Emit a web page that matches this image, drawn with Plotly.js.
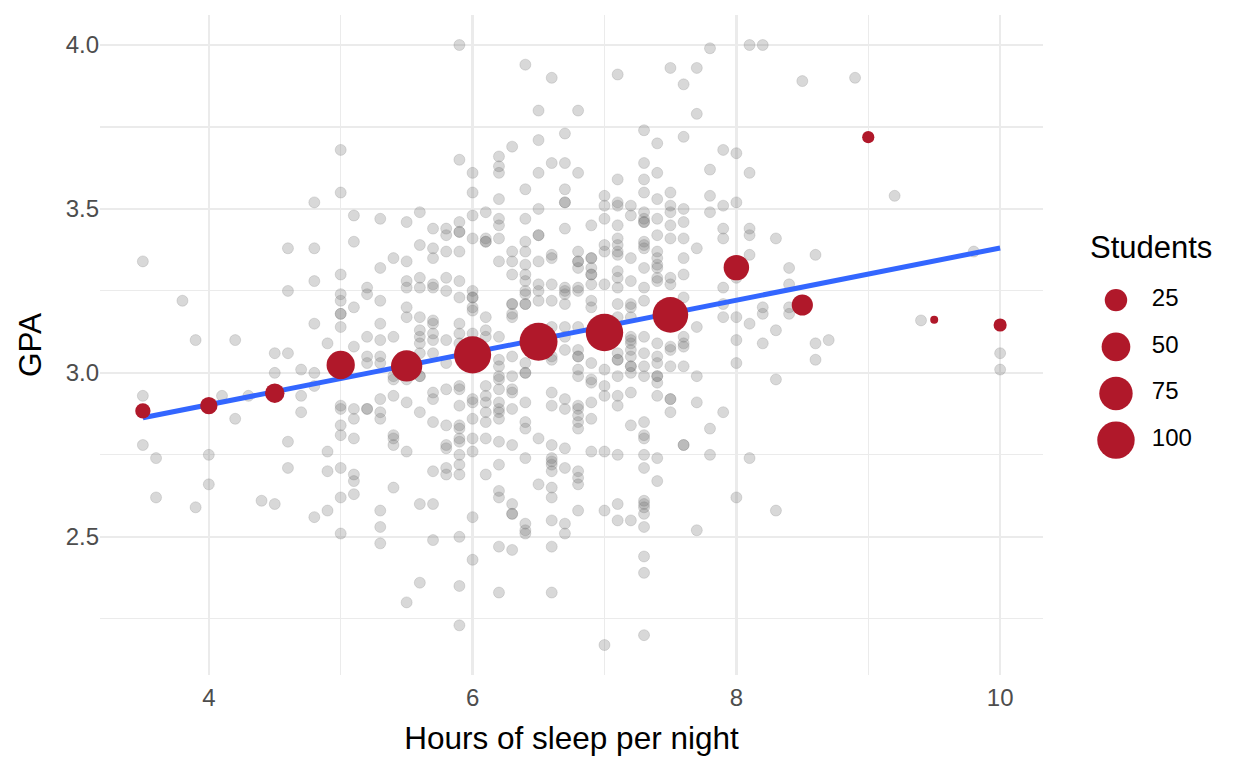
<!DOCTYPE html>
<html>
<head>
<meta charset="utf-8">
<script src="https://cdn.plot.ly/plotly-3.0.1.min.js"></script>
<style>
  html, body { margin: 0; padding: 0; background: #fff; }
  #chart { width: 1248px; height: 768px; }
</style>
</head>
<body>
<div id="chart"></div>
<script>
// Individual students: sleep hours (0.1 h steps) and the GPA values seen in each column
const sleepCols = [3.5, 3.6, 3.8, 3.9, 4.0, 4.1, 4.2, 4.3, 4.4, 4.5, 4.6, 4.7, 4.8, 4.9,
    5.0, 5.1, 5.2, 5.3, 5.4, 5.5, 5.6, 5.7, 5.8, 5.9, 6.0, 6.1, 6.2, 6.3, 6.4, 6.5, 6.6, 6.7,
    6.8, 6.9, 7.0, 7.1, 7.2, 7.3, 7.4, 7.5, 7.6, 7.7, 7.8, 7.9, 8.0, 8.1, 8.2, 8.3, 8.4, 8.5,
    8.6, 8.7, 8.9, 9.2, 9.4, 9.8, 10.0];
const gpaCols = [
    [3.34, 2.93, 2.78],
    [2.74, 2.62],
    [3.22],
    [3.10, 2.59],
    [2.75, 2.66],
    [2.93],
    [3.10, 2.86],
    [2.93],
    [2.61],
    [3.06, 3.00, 2.60],
    [3.38, 3.25, 3.06, 2.79, 2.71],
    [3.01, 2.93, 2.88],
    [3.52, 3.38, 3.28, 3.15, 3.00, 2.96, 2.56],
    [3.09, 2.76, 2.70, 2.58],
    [3.68, 3.55, 3.30, 3.24, 3.22, 3.18, 3.18, 3.14, 2.90, 2.89, 2.84, 2.81, 2.71, 2.62, 2.51],
    [3.48, 3.40, 3.20, 3.08, 2.89, 2.86, 2.80, 2.69, 2.67, 2.63],
    [3.26, 3.24, 3.11, 3.05, 3.03, 2.89, 2.89],
    [3.47, 3.32, 3.22, 3.15, 3.10, 3.05, 3.03, 2.92, 2.88, 2.86, 2.58, 2.53, 2.48],
    [3.35, 3.11, 2.99, 2.98, 2.93, 2.81, 2.80, 2.78, 2.65],
    [3.46, 3.34, 3.28, 3.26, 3.20, 3.17, 2.98, 2.91, 2.76, 2.30],
    [3.49, 3.39, 3.29, 3.26, 3.17, 3.13, 3.11, 3.09, 3.06, 2.99, 2.99, 2.88, 2.60, 2.36],
    [3.44, 3.38, 3.35, 3.27, 3.26, 3.16, 3.15, 3.12, 3.10, 3.06, 2.94, 2.92, 2.85, 2.70, 2.60, 2.49],
    [3.44, 3.42, 3.37, 3.29, 3.25, 3.10, 3.03, 2.95, 2.84, 2.78, 2.77, 2.71, 2.69],
    [4.00, 3.65, 3.46, 3.43, 3.43, 3.37, 3.28, 3.23, 3.15, 3.12, 3.09, 2.96, 2.95, 2.90, 2.84, 2.83,
        2.80, 2.79, 2.75, 2.72, 2.69, 2.50, 2.35, 2.23],
    [3.61, 3.55, 3.48, 3.41, 3.25, 3.23, 3.23, 3.20, 3.19, 3.12, 2.92, 2.91, 2.86, 2.80, 2.76, 2.56, 2.43],
    [3.49, 3.41, 3.40, 3.40, 3.17, 3.13, 3.11, 2.96, 2.93, 2.91, 2.88, 2.85, 2.80, 2.69],
    [3.66, 3.63, 3.61, 3.53, 3.47, 3.45, 3.41, 3.34, 3.11, 3.04, 3.02, 2.99, 2.98, 2.95, 2.91, 2.89,
        2.88, 2.86, 2.79, 2.72, 2.64, 2.62, 2.47, 2.33],
    [3.69, 3.37, 3.34, 3.30, 3.21, 3.21, 3.18, 3.17, 3.05, 2.99, 2.95, 2.94, 2.89, 2.78, 2.60, 2.57, 2.57, 2.46],
    [3.94, 3.56, 3.47, 3.40, 3.37, 3.33, 3.30, 3.28, 3.25, 3.24, 3.21, 3.21, 3.03, 3.00, 3.00, 2.91,
        2.85, 2.83, 2.74, 2.54, 2.52, 2.51],
    [3.80, 3.71, 3.61, 3.50, 3.42, 3.42, 3.34, 3.27, 3.25, 3.22, 2.80, 2.66],
    [3.90, 3.64, 3.36, 3.35, 3.27, 3.22, 3.14, 3.05, 3.04, 2.94, 2.90, 2.78, 2.74, 2.73, 2.72, 2.70,
        2.65, 2.62, 2.55, 2.47, 2.33],
    [3.73, 3.64, 3.56, 3.52, 3.52, 3.44, 3.26, 3.25, 3.24, 3.21, 3.14, 3.11, 3.07, 2.92, 2.89, 2.77,
        2.71, 2.54, 2.51],
    [3.80, 3.61, 3.37, 3.34, 3.34, 3.32, 3.26, 3.25, 3.14, 3.07, 3.05, 3.05, 3.01, 2.99, 2.90, 2.89,
        2.87, 2.85, 2.83, 2.70, 2.68, 2.66, 2.58],
    [3.45, 3.35, 3.35, 3.32, 3.30, 3.30, 3.27, 3.22, 3.20, 3.03, 2.98, 2.97, 2.91, 2.86, 2.76],
    [3.54, 3.51, 3.47, 3.39, 3.37, 3.27, 3.16, 3.01, 2.96, 2.93, 2.76, 2.58, 2.17],
    [3.91, 3.59, 3.52, 3.51, 3.45, 3.41, 3.39, 3.37, 3.36, 3.31, 3.29, 3.26, 3.21, 3.17, 3.06, 3.04,
        3.04, 2.99, 2.93, 2.90, 2.75, 2.60, 2.55],
    [3.51, 3.48, 3.35, 3.28, 3.21, 3.20, 3.17, 3.11, 3.10, 3.09, 3.07, 3.05, 3.02, 3.02, 3.00, 2.94, 2.84, 2.55],
    [3.74, 3.64, 3.59, 3.55, 3.49, 3.47, 3.46, 3.46, 3.40, 3.39, 3.38, 3.32, 3.26, 3.22, 3.11, 3.06,
        3.02, 2.99, 2.85, 2.81, 2.80, 2.75, 2.71, 2.61, 2.60, 2.59, 2.57, 2.53, 2.44, 2.39, 2.20],
    [3.70, 3.61, 3.53, 3.47, 3.42, 3.37, 3.35, 3.33, 3.32, 3.29, 3.28, 3.09, 3.05, 3.03, 2.99, 2.99,
        2.97, 2.93, 2.74, 2.67],
    [3.93, 3.55, 3.51, 3.49, 3.45, 3.41, 3.29, 3.27, 3.08, 3.07, 3.02, 2.92, 2.92, 2.88],
    [3.88, 3.72, 3.50, 3.46, 3.41, 3.35, 3.30, 3.23, 3.11, 3.09, 3.08, 3.02, 2.78, 2.78],
    [3.93, 3.79, 3.38, 3.14, 2.99, 2.91, 2.52],
    [3.99, 3.62, 3.54, 3.49, 2.83, 2.75],
    [3.68, 3.51, 3.44, 3.41, 3.26, 3.21, 3.17, 2.88],
    [3.67, 3.52, 3.29, 3.17, 3.10, 3.03, 2.62],
    [4.00, 3.61, 3.44, 3.42, 3.36, 3.15, 2.74],
    [4.00, 3.20, 3.18, 3.09],
    [3.41, 3.13, 2.98, 2.58],
    [3.32, 3.27, 3.20, 3.18],
    [3.89],
    [3.36, 3.09, 3.04],
    [3.10],
    [3.90],
    [3.54],
    [3.16],
    [3.37],
    [3.06, 3.01]
];

// Half-hour groups: mean GPA and number of students
const binSleep = [3.5, 4.0, 4.5, 5.0, 5.5, 6.0, 6.5, 7.0, 7.5, 8.0, 8.5, 9.0, 9.5, 10.0];
const binGpa = [2.884, 2.900, 2.938, 3.024, 3.021, 3.055, 3.095, 3.123, 3.177, 3.321, 3.207, 3.719, 3.162, 3.146];
const binCount = [7, 11, 16, 48, 63, 98, 104, 100, 88, 36, 21, 3, 1, 4];

// Linear fit line ends
const fitSleep = [3.5, 10.0];
const fitGpa = [2.863, 3.381];

const legendCounts = [25, 50, 75, 100];

const xTicks = [4, 6, 8, 10];
const xMinor = [3, 5, 7, 9];
const yTicks = [2.5, 3.0, 3.5, 4.0];
const yTickText = ["2.5", "3.0", "3.5", "4.0"];
const yMinor = [2.25, 2.75, 3.25, 3.75];

const fontFamily = '"Liberation Sans", Arial, sans-serif';
const red = '#B0182A';

// flatten the columns into one point per student
const sleepHours = [];
const gpa = [];
sleepCols.forEach((s, i) => {
    gpaCols[i].forEach((g) => {
        sleepHours.push(s);
        gpa.push(g);
    });
});

// ggplot-like area scale for point size
const nMin = Math.min(...binCount);
const nMax = Math.max(...binCount);
function sizePx(n) {
    const t = Math.max(0, (n - nMin) / (nMax - nMin));
    return 2 + 6.0 * (1 + 5 * Math.sqrt(t));
}

const grayPoints = {
    x: sleepHours,
    y: gpa,
    type: 'scatter',
    mode: 'markers',
    marker: {
        size: 11,
        opacity: 1,
        color: 'rgba(110,110,110,0.27)',
        line: {width: 1, color: 'rgba(110,110,110,0.2)'}
    },
    hoverinfo: 'skip',
    showlegend: false
};

const fitLine = {
    x: fitSleep,
    y: fitGpa,
    type: 'scatter',
    mode: 'lines',
    line: {color: '#3366FF', width: 5},
    hoverinfo: 'skip',
    showlegend: false
};

const binPoints = {
    x: binSleep,
    y: binGpa,
    type: 'scatter',
    mode: 'markers',
    marker: {
        size: binCount.map(sizePx),
        color: red,
        opacity: 1,
        line: {width: 0}
    },
    showlegend: false
};

// hand-made size legend on its own little axes
const legendY = legendCounts.map((c, i) => 0.568 - i * 0.0707);
const legendDots = {
    x: legendCounts.map(() => 0.36),
    y: legendY,
    xaxis: 'x2',
    yaxis: 'y2',
    type: 'scatter',
    mode: 'markers',
    marker: {size: legendCounts.map(sizePx), color: red, opacity: 1, line: {width: 0}},
    hoverinfo: 'skip',
    showlegend: false
};
const legendText = {
    x: legendCounts.map(() => 0.545),
    y: legendY,
    xaxis: 'x2',
    yaxis: 'y2',
    type: 'scatter',
    mode: 'text',
    text: legendCounts.map(String),
    textposition: 'middle right',
    textfont: {family: fontFamily, size: 24, color: '#000'},
    hoverinfo: 'skip',
    showlegend: false
};

const gridColor = '#EBEBEB';

const layout = {
    width: 1248,
    height: 768,
    margin: {l: 100, r: 8, t: 15, b: 93},
    paper_bgcolor: '#fff',
    plot_bgcolor: '#fff',
    font: {family: fontFamily, color: '#000'},
    showlegend: false,
    xaxis: {
        domain: [0, 0.8272],
        range: [3.175, 10.325],
        tickvals: xTicks,
        ticktext: xTicks.map(String),
        tickfont: {size: 24, color: '#4D4D4D'},
        ticks: '',
        ticklabelstandoff: 6,
        showgrid: true,
        gridcolor: gridColor,
        gridwidth: 2.4,
        zeroline: false,
        showline: false,
        minor: {tickvals: xMinor, showgrid: true, gridcolor: gridColor, gridwidth: 1.2, ticks: ''},
        title: {text: 'Hours of sleep per night', font: {size: 31.5, color: '#000'}, standoff: 16},
        automargin: false
    },
    yaxis: {
        range: [2.0785, 4.0915],
        tickvals: yTicks,
        ticktext: yTickText,
        tickfont: {size: 24, color: '#4D4D4D'},
        ticks: '',
        showgrid: true,
        gridcolor: gridColor,
        gridwidth: 2.4,
        zeroline: false,
        showline: false,
        minor: {tickvals: yMinor, showgrid: true, gridcolor: gridColor, gridwidth: 1.2, ticks: ''},
        title: {text: 'GPA', font: {size: 31.5, color: '#000'}, standoff: 14},
        automargin: false
    },
    xaxis2: {
        domain: [0.83, 1],
        range: [0, 1],
        visible: false,
        fixedrange: true
    },
    yaxis2: {
        domain: [0, 1],
        range: [0, 1],
        anchor: 'x2',
        visible: false,
        fixedrange: true
    },
    annotations: [{
        text: 'Students',
        xref: 'paper',
        yref: 'paper',
        x: 0.867,
        y: 0.647,
        xanchor: 'left',
        yanchor: 'middle',
        showarrow: false,
        font: {family: fontFamily, size: 31, color: '#000'}
    }]
};

Plotly.newPlot('chart', [grayPoints, fitLine, binPoints, legendDots, legendText], layout,
    {displayModeBar: false, staticPlot: true});
</script>
</body>
</html>
